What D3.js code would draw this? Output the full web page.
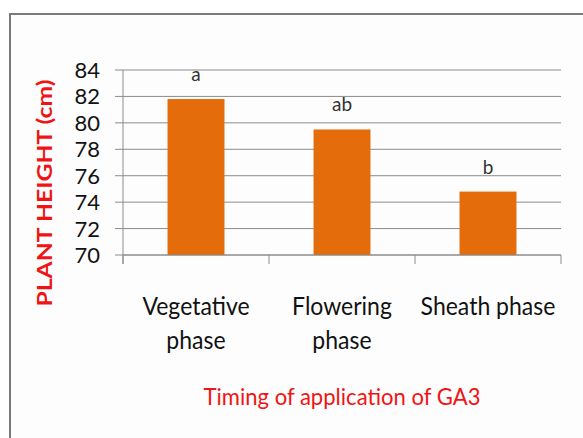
<!DOCTYPE html>
<html>
<head>
<meta charset="utf-8">
<script src="https://cdn.jsdelivr.net/npm/d3@7"></script>
<style>
  body { margin: 0; background: #fff; }
  svg { display: block; }
</style>
</head>
<body>
<script>
// data
var phases = ["Vegetative phase", "Flowering phase", "Sheath phase"]
var phaseLines = [["Vegetative", "phase"], ["Flowering", "phase"], ["Sheath phase"]]
var heights = [81.8, 79.5, 74.8]
var letters = ["a", "ab", "b"]
var yTicks = [70, 72, 74, 76, 78, 80, 82, 84]

var W = 583, H = 438
var plot = {left: 123, right: 561, top: 70, bottom: 255}
var font = "Lato, sans-serif"

// squeeze text a bit sideways, the original font is narrower than Lato
function condense(sel, f){
  sel.each(function(){
    var len = this.getComputedTextLength()
    d3.select(this).attr("textLength", len * f).attr("lengthAdjust", "spacingAndGlyphs")
  })
}

var svg = d3.select("body").append("svg")
  .attr("width", W)
  .attr("height", H)

// frame
svg.append("rect")
  .attr("x", 10).attr("y", 14)
  .attr("width", W - 9).attr("height", H - 13)
  .attr("fill", "#fdfdfd")
  .attr("stroke", "#7a7a7a")
  .attr("stroke-width", 2)

var x = d3.scaleBand()
  .domain(phases)
  .range([plot.left, plot.right])
  .padding(0)

var y = d3.scaleLinear()
  .domain([70, 84])
  .range([plot.bottom, plot.top])

// gridlines + y ticks
svg.append("g")
  .selectAll("line")
  .data(yTicks)
  .join("line")
  .attr("x1", plot.left - 8)
  .attr("x2", plot.right)
  .attr("y1", function(d){ return y(d) })
  .attr("y2", function(d){ return y(d) })
  .attr("stroke", "#8c8c8c")
  .attr("stroke-width", 1)

svg.append("g")
  .selectAll("text")
  .data(yTicks)
  .join("text")
  .attr("x", 100)
  .attr("y", function(d){ return y(d) + 8 })
  .attr("text-anchor", "end")
  .attr("font-family", font)
  .attr("font-size", 22)
  .attr("fill", "#111")
  .text(function(d){ return d })

// bars
var barW = x.bandwidth() * 0.39
svg.append("g")
  .selectAll("rect")
  .data(heights)
  .join("rect")
  .attr("x", function(d, i){ return x(phases[i]) + x.bandwidth() / 2 - barW / 2 })
  .attr("y", function(d){ return y(d) })
  .attr("width", barW)
  .attr("height", function(d){ return y(70) - y(d) })
  .attr("fill", "#e46c0a")

// significance letters
svg.append("g")
  .selectAll("text")
  .data(letters)
  .join("text")
  .attr("x", function(d, i){ return x(phases[i]) + x.bandwidth() / 2 })
  .attr("y", function(d, i){ return y(heights[i]) - 18 })
  .attr("text-anchor", "middle")
  .attr("font-family", font)
  .attr("font-size", 19)
  .attr("fill", "#333")
  .text(function(d){ return d })

// axes lines
svg.append("line")
  .attr("x1", plot.left).attr("x2", plot.left)
  .attr("y1", plot.top).attr("y2", plot.bottom + 9)
  .attr("stroke", "#8c8c8c")
svg.append("line")
  .attr("x1", plot.left).attr("x2", plot.right)
  .attr("y1", plot.bottom).attr("y2", plot.bottom)
  .attr("stroke", "#8c8c8c")
svg.append("g")
  .selectAll("line")
  .data(phases.concat(["end"]))
  .join("line")
  .attr("x1", function(d, i){ return plot.left + i * x.bandwidth() })
  .attr("x2", function(d, i){ return plot.left + i * x.bandwidth() })
  .attr("y1", plot.bottom)
  .attr("y2", plot.bottom + 9)
  .attr("stroke", "#8c8c8c")

// category labels, one text per line
var catG = svg.append("g")
phases.forEach(function(d, i){
  phaseLines[i].forEach(function(line, k){
    catG.append("text")
      .attr("x", x(d) + x.bandwidth() / 2)
      .attr("y", 315 + k * 34)
      .attr("text-anchor", "middle")
      .attr("font-family", font)
      .attr("font-size", 25)
      .attr("fill", "#111")
      .text(line)
      .call(condense, 0.92)
  })
})

// axis titles
svg.append("text")
  .attr("transform", "translate(52,193) rotate(-90)")
  .attr("text-anchor", "middle")
  .attr("font-family", font)
  .attr("font-weight", "bold")
  .attr("font-size", 21)
  .attr("fill", "#f01414")
  .text("PLANT HEIGHT (cm)")
  .attr("textLength", 227)
  .attr("lengthAdjust", "spacingAndGlyphs")

svg.append("text")
  .attr("x", 342)
  .attr("y", 405)
  .attr("text-anchor", "middle")
  .attr("font-family", font)
  .attr("font-size", 23)
  .attr("fill", "#f01414")
  .text("Timing of application of GA3")
  .attr("textLength", 277)
  .attr("lengthAdjust", "spacingAndGlyphs")
</script>
</body>
</html>
